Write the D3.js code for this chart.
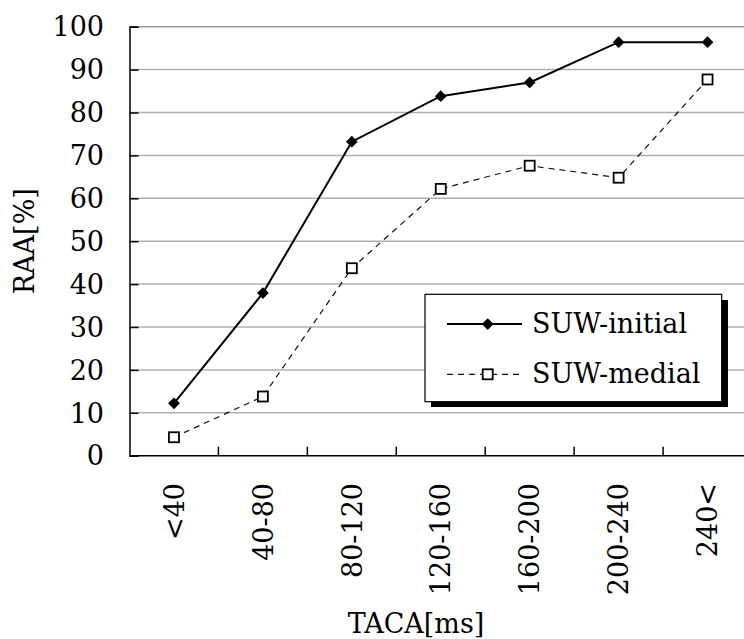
<!DOCTYPE html>
<html>
<head>
<meta charset="utf-8">
<script src="https://cdn.jsdelivr.net/npm/d3@7"></script>
<style>
  body { margin: 0; background: #fff; }
  text { font-family: "DejaVu Serif", serif; fill: #000; }
</style>
</head>
<body>
<div id="chart"></div>
<script>
var categories = ["<40", "40-80", "80-120", "120-160", "160-200", "200-240", "240<"];
var initialValues = [12.2, 37.9, 73.2, 83.8, 87.0, 96.4, 96.4];
var medialValues = [4.3, 13.8, 43.7, 62.2, 67.6, 64.8, 87.7];
var yTicks = [0, 10, 20, 30, 40, 50, 60, 70, 80, 90, 100];
var seriesNames = ["SUW-initial", "SUW-medial"];

function drawChart() {
  var width = 744, height = 639;
  var plotLeft = 129.5, plotRight = 752, plotTop = 26.7, plotBottom = 455.7;

  var svg = d3.select("#chart").append("svg")
    .attr("width", width)
    .attr("height", height);

  var x = d3.scaleBand().domain(categories).range([plotLeft, plotRight]);
  var y = d3.scaleLinear().domain([0, 100]).range([plotBottom, plotTop]);
  var cx = function(i){ return x(categories[i]) + x.bandwidth() / 2; };

  // gridlines
  svg.append("g")
    .selectAll("line")
    .data(yTicks.filter(function(d){ return d > 0; }))
    .enter().append("line")
    .attr("x1", plotLeft).attr("x2", plotRight)
    .attr("y1", function(d){ return y(d); })
    .attr("y2", function(d){ return y(d); })
    .attr("stroke", function(d){ return d == 100 ? "#999" : "#b0b0b0"; })
    .attr("stroke-width", 1.5);

  // y axis, ticks inside
  var yAxis = svg.append("g")
    .attr("transform", "translate(" + plotLeft + ",0)")
    .call(d3.axisRight(y).tickValues(yTicks).tickSize(9).tickFormat(""));
  yAxis.select(".domain").attr("stroke", "#000").attr("stroke-width", 1.5);
  yAxis.selectAll(".tick line").attr("stroke", "#000").attr("stroke-width", 1.5);

  svg.append("g")
    .selectAll("text")
    .data(yTicks)
    .enter().append("text")
    .attr("x", 104)
    .attr("y", function(d){ return y(d); })
    .attr("dy", "0.36em")
    .attr("text-anchor", "end")
    .style("font-size", "27px")
    .text(function(d){ return d; });

  // x axis, ticks at category boundaries pointing up
  var xAxis = svg.append("g")
    .attr("transform", "translate(0," + plotBottom + ")");
  xAxis.append("line")
    .attr("x1", plotLeft).attr("x2", plotRight)
    .attr("stroke", "#000").attr("stroke-width", 1.5);
  xAxis.selectAll(".bt")
    .data(categories.slice(1))
    .enter().append("line")
    .attr("class", "bt")
    .attr("x1", function(d){ return x(d); })
    .attr("x2", function(d){ return x(d); })
    .attr("y1", 0).attr("y2", -9)
    .attr("stroke", "#000").attr("stroke-width", 1.5);

  svg.append("g")
    .selectAll("text")
    .data(categories)
    .enter().append("text")
    .attr("transform", function(d, i){
      return "translate(" + cx(i) + ",483) rotate(-90)";
    })
    .attr("dy", "0.36em")
    .attr("text-anchor", "end")
    .style("font-size", "27px")
    .text(function(d){ return d; });

  // axis titles
  svg.append("text")
    .attr("transform", "translate(24," + (plotTop + plotBottom) / 2 + ") rotate(-90)")
    .attr("dy", "0.36em")
    .attr("text-anchor", "middle")
    .style("font-size", "27px")
    .text("RAA[%]");

  svg.append("text")
    .attr("x", 416)
    .attr("y", 633)
    .attr("text-anchor", "middle")
    .style("font-size", "27px")
    .text("TACA[ms]");

  // lines
  var line = d3.line()
    .x(function(d, i){ return cx(i); })
    .y(function(d){ return y(d); });

  svg.append("path")
    .attr("d", line(medialValues))
    .attr("fill", "none")
    .attr("stroke", "#111")
    .attr("stroke-width", 1.2)
    .attr("stroke-dasharray", "6,5");

  svg.append("path")
    .attr("d", line(initialValues))
    .attr("fill", "none")
    .attr("stroke", "#000")
    .attr("stroke-width", 2);

  var diamond = d3.symbol().type(d3.symbolDiamond2).size(88);

  svg.append("g")
    .selectAll("path")
    .data(initialValues)
    .enter().append("path")
    .attr("transform", function(d, i){ return "translate(" + cx(i) + "," + y(d) + ")"; })
    .attr("d", diamond)
    .attr("fill", "#000");

  svg.append("g")
    .selectAll("rect")
    .data(medialValues)
    .enter().append("rect")
    .attr("x", function(d, i){ return cx(i) - 5; })
    .attr("y", function(d){ return y(d) - 5; })
    .attr("width", 10).attr("height", 10)
    .attr("fill", "#fff")
    .attr("stroke", "#000")
    .attr("stroke-width", 1.8);

  // legend
  var lg = svg.append("g");
  lg.append("rect")
    .attr("x", 431).attr("y", 300)
    .attr("width", 297).attr("height", 107)
    .attr("fill", "#000");
  lg.append("rect")
    .attr("x", 425).attr("y", 294.3)
    .attr("width", 296.7).attr("height", 107.4)
    .attr("fill", "#fff")
    .attr("stroke", "#000")
    .attr("stroke-width", 1.2);

  var rowY = [324, 374.3];

  lg.append("line")
    .attr("x1", 447).attr("x2", 522)
    .attr("y1", rowY[0]).attr("y2", rowY[0])
    .attr("stroke", "#000").attr("stroke-width", 2);
  lg.append("path")
    .attr("transform", "translate(487.7," + rowY[0] + ")")
    .attr("d", diamond)
    .attr("fill", "#000");

  lg.append("line")
    .attr("x1", 447).attr("x2", 522)
    .attr("y1", rowY[1]).attr("y2", rowY[1])
    .attr("stroke", "#111").attr("stroke-width", 1.2)
    .attr("stroke-dasharray", "6,5");
  lg.append("rect")
    .attr("x", 482.7).attr("y", rowY[1] - 5)
    .attr("width", 10).attr("height", 10)
    .attr("fill", "#fff")
    .attr("stroke", "#000").attr("stroke-width", 1.8);

  lg.selectAll(".lt")
    .data(seriesNames)
    .enter().append("text")
    .attr("class", "lt")
    .attr("x", 532)
    .attr("y", function(d, i){ return rowY[i] + 8.5; })
    .style("font-size", "27px")
    .text(function(d){ return d; });
}

drawChart();
</script>
</body>
</html>
